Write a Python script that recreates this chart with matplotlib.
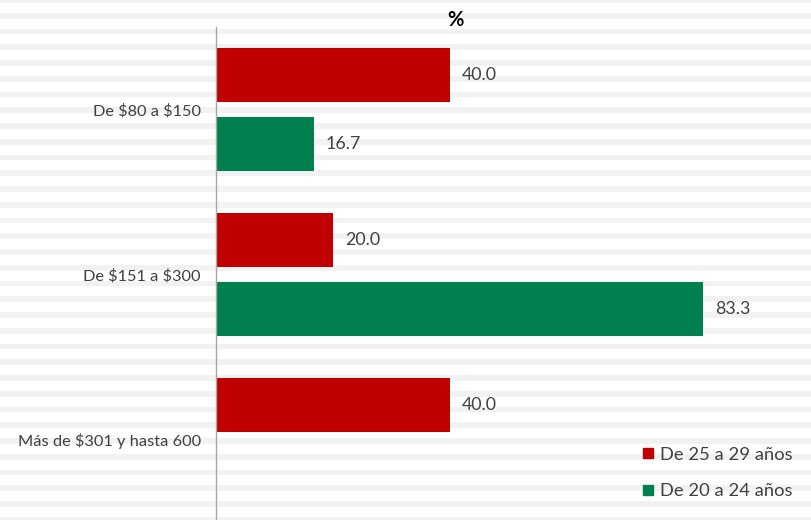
import numpy as np
import matplotlib.pyplot as plt
from matplotlib.lines import Line2D

categories = [r"De \$80 a \$150", r"De \$151 a \$300", r"Más de \$301 y hasta 600"]
serie_25_29 = [40.0, 20.0, 40.0]
serie_20_24 = [16.7, 83.3, np.nan]
labels = ["De 25 a 29 años", "De 20 a 24 años"]

RED = "#C00000"
GREEN = "#00804F"
TXT = "#404040"

plt.rcParams["font.family"] = ["Lato", "DejaVu Sans"]

W, H = 811, 520
fig = plt.figure(figsize=(W / 100, H / 100), dpi=100)

# striped chart background (pixel coordinates)
bg = fig.add_axes([0, 0, 1, 1], zorder=0)
bg.set_xlim(0, W)
bg.set_ylim(H, 0)
bg.axis("off")
y0 = -3.0
while y0 < H:
    bg.axhspan(y0, y0 + 5.75, color="#f2f2f2", lw=0)
    y0 += 15.75

# plot area
px = 5.846
left, top, bottom = 216, 27, 522
ax = fig.add_axes([left / W, (H - bottom) / H, 100 * px / W, (bottom - top) / H], zorder=1)
ax.patch.set_alpha(0)

pos = np.arange(len(categories))
h = 0.333
off = 0.209
ax.barh(pos - off, serie_25_29, height=h, color=RED, label=labels[0])
ax.barh(pos + off, serie_20_24, height=h, color=GREEN, label=labels[1])

for p, v in zip(pos - off, serie_25_29):
    ax.text(v + 2.0, p, f"{v:.1f}", va="center", ha="left", fontsize=12.8, color=TXT)
for p, v in zip(pos + off, serie_20_24):
    if not np.isnan(v):
        ax.text(v + 2.0, p, f"{v:.1f}", va="center", ha="left", fontsize=12.8, color=TXT)

ax.set_xlim(0, 100)
ax.set_ylim(2.5, -0.5)
ax.set_yticks(pos)
ax.set_yticklabels(categories, fontsize=11.8, color=TXT)
ax.tick_params(axis="y", length=0, pad=11)
ax.set_xticks([])
for s in ["top", "right", "bottom"]:
    ax.spines[s].set_visible(False)
ax.spines["left"].set_color("#a6a6a6")
ax.spines["left"].set_linewidth(1)

fig.text(455 / W, 1 - 20 / H, "%", ha="center", va="center", fontsize=14.5,
         fontweight="bold", color="#000000")

handles = [Line2D([0], [0], marker="s", color="none", markerfacecolor=c,
                  markeredgecolor=c, markersize=7, label=l)
           for c, l in zip([RED, GREEN], labels)]
leg = fig.legend(handles=handles, loc="center left",
                 bbox_to_anchor=(624 / W, 1 - 473 / H), frameon=False,
                 fontsize=13.2, labelspacing=1.1, handlelength=0.8,
                 handletextpad=0.25, labelcolor=TXT)

fig.savefig("out.png", dpi=100)
